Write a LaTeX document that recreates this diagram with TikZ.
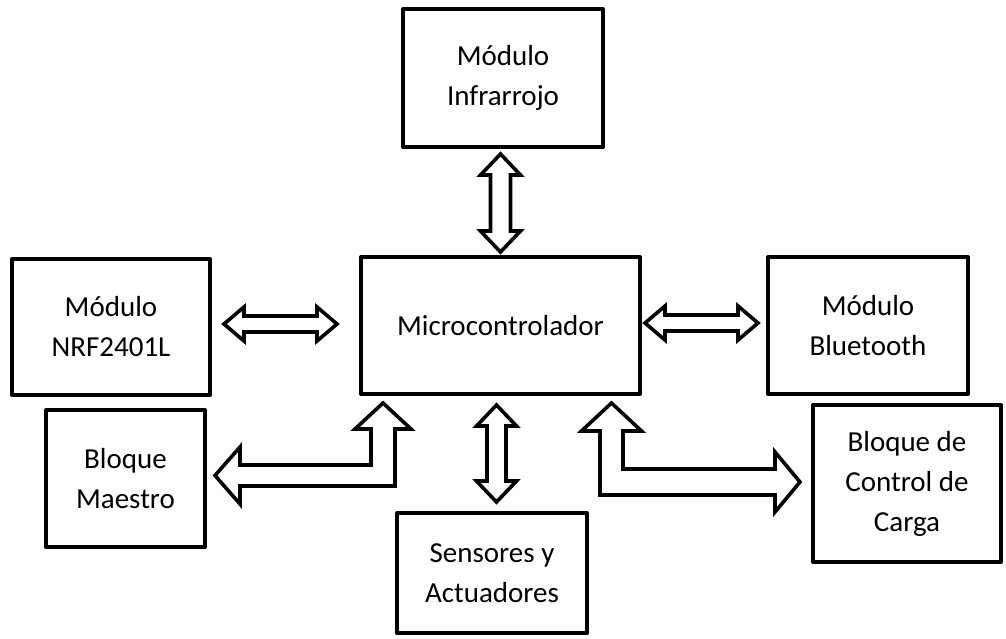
\documentclass[tikz,border=0pt]{standalone}
\usepackage{fontspec}
\setmainfont{Carlito}
\usetikzlibrary{calc}
\begin{document}
\begin{tikzpicture}[x=1pt,y=-1pt,
  blockbox/.style={draw=black, line width=4pt, fill=white, rectangle, inner sep=0pt,
    align=center, font=\fontsize{29}{40}\selectfont, line join=round},
  blk/.style={draw=black, line width=3.6pt, fill=white, line join=miter}]
\useasboundingbox (0,0) rectangle (1006,638);
\fill[white] (0,0) rectangle (1006,638);
% boxes
\node[blockbox, minimum width=200pt, minimum height=138pt] (inf) at (503,78) {Módulo\\Infrarrojo};
\node[blockbox, minimum width=279pt, minimum height=137pt] (micro) at (500.5,325.5) {Microcontrolador};
\node[blockbox, minimum width=198pt, minimum height=136pt] (nrf) at (111,327) {Módulo\\NRF2401L};
\node[blockbox, minimum width=200pt, minimum height=137pt] (bt) at (868,325.5) {Módulo\\Bluetooth};
\node[blockbox, minimum width=159pt, minimum height=137pt] (maestro) at (125.5,478.5) {Bloque\\Maestro};
\node[blockbox, minimum width=188pt, minimum height=157pt] (carga) at (907,483.5) {Bloque de\\Control de\\Carga};
\node[blockbox, minimum width=190pt, minimum height=120pt] (sens) at (492,573) {Sensores y\\Actuadores};
% vertical arrow: Infrarrojo -- Microcontrolador
\coordinate (t1) at ($(micro.north |- inf.south)+(0,5)$);
\coordinate (b1) at ($(micro.north)+(0,-3)$);
\draw[blk] (t1) -- ++(20,21) -- ++(-10,0) -- ($(b1)+(10,-21)$) -- ++(10,0) -- (b1)
  -- ++(-20,-21) -- ++(10,0) -- ($(t1)+(-10,21)$) -- ++(-10,0) -- cycle;
% horizontal arrow: NRF -- Microcontrolador
\coordinate (l2) at ($(nrf.east)+(12,-3)$);
\coordinate (r2) at ($(micro.west |- l2)+(-22,0)$);
\draw[blk] (l2) -- ++(20,-17) -- ++(0,9) -- ($(r2)+(-20,-8)$) -- ++(0,-9) -- (r2)
  -- ++(-20,17) -- ++(0,-9) -- ($(l2)+(20,8)$) -- ++(0,9) -- cycle;
% horizontal arrow: Microcontrolador -- Bluetooth
\coordinate (l3) at ($(micro.east)+(3,-2.5)$);
\coordinate (r3) at ($(bt.west |- l3)+(-8,0)$);
\draw[blk] (l3) -- ++(20,-17) -- ++(0,9) -- ($(r3)+(-20,-8)$) -- ++(0,-9) -- (r3)
  -- ++(-20,17) -- ++(0,-9) -- ($(l3)+(20,8)$) -- ++(0,9) -- cycle;
% vertical arrow: Microcontrolador -- Sensores
\coordinate (t4) at ($(micro.south)+(-4,9)$);
\coordinate (b4) at ($(sens.north -| t4)+(0,-9)$);
\draw[blk] (t4) -- ++(20,21) -- ++(-10.5,0) -- ($(b4)+(9.5,-21)$) -- ++(10.5,0) -- (b4)
  -- ++(-20,-21) -- ++(10.5,0) -- ($(t4)+(-9.5,21)$) -- ++(-10.5,0) -- cycle;
% bent arrow: Microcontrolador -- Bloque Maestro
\coordinate (bu) at ($(micro.south west)+(24,7)$);
\coordinate (bl) at ($(maestro.east)+(8,-3)$);
\coordinate (bc) at (bu |- bl);
\draw[blk] (bu) -- ++(28,26) -- ++(-16,0) -- ($(bc)+(12,10.5)$) -- ($(bl)+(25,10.5)$)
  -- ++(0,18) -- (bl) -- ++(25,-28.5) -- ++(0,18) -- ($(bc)+(-12,-10.5)$)
  -- ($(bu)+(-12,26)$) -- ++(-16,0) -- cycle;
% bent arrow: Microcontrolador -- Control de Carga
\coordinate (cu) at ($(micro.south east)+(-30.5,7)$);
\coordinate (cr) at ($(carga.west)+(-11,-1.5)$);
\coordinate (cc) at (cu |- cr);
\draw[blk] (cu) -- ++(30,28) -- ++(-18.5,0) -- ($(cc)+(11.5,-13)$) -- ($(cr)+(-25,-13)$)
  -- ++(0,-17) -- (cr) -- ++(-25,30) -- ++(0,-17) -- ($(cc)+(-11.5,13)$)
  -- ($(cu)+(-11.5,28)$) -- ++(-18.5,0) -- cycle;
\end{tikzpicture}
\end{document}
